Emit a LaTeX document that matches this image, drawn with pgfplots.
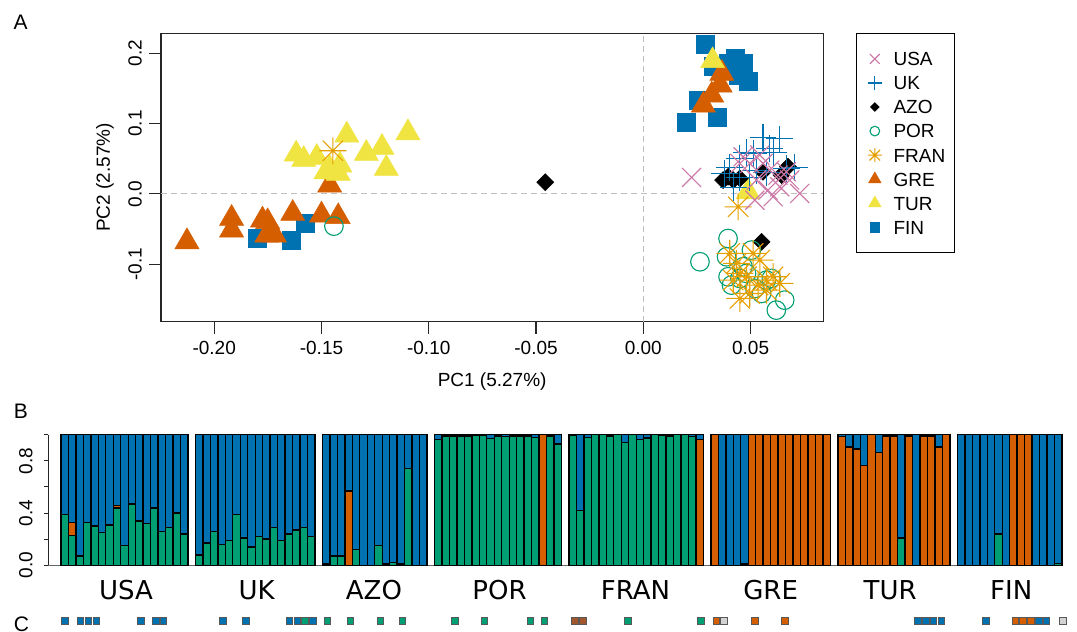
\documentclass[border=0pt]{standalone}
\usepackage{pgfplots}
\usepackage{pgfplotstable}
\pgfplotsset{compat=1.18}
\usepackage{fontspec}
\setmainfont{Liberation Sans}
\newfontfamily\dejavu{DejaVu Sans}
\newcommand{\fs}[1]{\fontsize{#1bp}{#1bp}\selectfont}

\definecolor{cblue}{HTML}{0072B2}
\definecolor{cgreen}{HTML}{009E73}
\definecolor{corange}{HTML}{D55E00}
\definecolor{cfran}{HTML}{E69F00}
\definecolor{cusa}{HTML}{CC79A7}
\definecolor{ctur}{HTML}{F0E442}
\definecolor{cbrown}{HTML}{A0572D}
\definecolor{cgrey}{HTML}{D3D3D3}
\definecolor{dashgrey}{HTML}{BEBEBE}

\pgfdeclareplotmark{rx}{%
 \pgfpathmoveto{\pgfqpoint{-\pgfplotmarksize}{-\pgfplotmarksize}}%
 \pgfpathlineto{\pgfqpoint{\pgfplotmarksize}{\pgfplotmarksize}}%
 \pgfpathmoveto{\pgfqpoint{-\pgfplotmarksize}{\pgfplotmarksize}}%
 \pgfpathlineto{\pgfqpoint{\pgfplotmarksize}{-\pgfplotmarksize}}%
 \pgfusepathqstroke}
\pgfdeclareplotmark{rplus}{%
 \pgfpathmoveto{\pgfqpoint{-\pgfplotmarksize}{0pt}}%
 \pgfpathlineto{\pgfqpoint{\pgfplotmarksize}{0pt}}%
 \pgfpathmoveto{\pgfqpoint{0pt}{-\pgfplotmarksize}}%
 \pgfpathlineto{\pgfqpoint{0pt}{\pgfplotmarksize}}%
 \pgfusepathqstroke}
\pgfdeclareplotmark{star8}{%
 \pgfpathmoveto{\pgfqpoint{-\pgfplotmarksize}{0pt}}%
 \pgfpathlineto{\pgfqpoint{\pgfplotmarksize}{0pt}}%
 \pgfpathmoveto{\pgfqpoint{0pt}{-\pgfplotmarksize}}%
 \pgfpathlineto{\pgfqpoint{0pt}{\pgfplotmarksize}}%
 \pgfpathmoveto{\pgfqpoint{-.75\pgfplotmarksize}{-.75\pgfplotmarksize}}%
 \pgfpathlineto{\pgfqpoint{.75\pgfplotmarksize}{.75\pgfplotmarksize}}%
 \pgfpathmoveto{\pgfqpoint{-.75\pgfplotmarksize}{.75\pgfplotmarksize}}%
 \pgfpathlineto{\pgfqpoint{.75\pgfplotmarksize}{-.75\pgfplotmarksize}}%
 \pgfusepathqstroke}
\pgfdeclareplotmark{rdiamond*}{%
 \pgfpathmoveto{\pgfqpoint{0pt}{\pgfplotmarksize}}%
 \pgfpathlineto{\pgfqpoint{\pgfplotmarksize}{0pt}}%
 \pgfpathlineto{\pgfqpoint{0pt}{-\pgfplotmarksize}}%
 \pgfpathlineto{\pgfqpoint{-\pgfplotmarksize}{0pt}}%
 \pgfpathclose
 \pgfusepathqfillstroke}

\pgfplotsset{
 /pgf/number format/assume math mode=true,
 usaM/.style={only marks, mark=rx, mark size=9.5bp, color=cusa, draw=cusa, line width=1.1bp},
 ukM/.style={only marks, mark=rplus, mark size=13.4bp, color=cblue, draw=cblue, line width=1.1bp},
 azoM/.style={only marks, mark=rdiamond*, mark size=8.5bp, color=black, line width=0.5bp},
 porM/.style={only marks, mark=o, mark size=9.3bp, color=cgreen, draw=cgreen, line width=1.1bp},
 franM/.style={only marks, mark=star8, mark size=13.5bp, color=cfran, draw=cfran, line width=1.1bp},
 greM/.style={only marks, mark=triangle*, mark size=13.9bp, color=corange, line width=0.5bp},
 turM/.style={only marks, mark=triangle*, mark size=13.9bp, color=ctur, line width=0.5bp},
 finM/.style={only marks, mark=square*, mark size=9bp, color=cblue, line width=0.5bp},
}

\pgfplotstableread{
x g o b
0.5 0.39 0 0.61
1.5 0.23 0.10 0.67
2.5 0.07 0 0.93
3.5 0.33 0 0.67
4.5 0.30 0 0.70
5.5 0.25 0 0.75
6.5 0.31 0 0.69
7.5 0.44 0.02 0.54
8.5 0.15 0 0.85
9.5 0.47 0 0.53
10.5 0.34 0 0.66
11.5 0.32 0 0.68
12.5 0.44 0 0.56
13.5 0.26 0 0.74
14.5 0.29 0 0.71
15.5 0.40 0 0.60
16.5 0.24 0 0.76
18.5 0.08 0 0.92
19.5 0.17 0 0.83
20.5 0.26 0 0.74
21.5 0.16 0 0.84
22.5 0.19 0 0.81
23.5 0.39 0 0.61
24.5 0.21 0 0.79
25.5 0.14 0 0.86
26.5 0.22 0 0.78
27.5 0.20 0 0.80
28.5 0.29 0 0.71
29.5 0.19 0 0.81
30.5 0.24 0 0.76
31.5 0.27 0 0.73
32.5 0.29 0 0.71
33.5 0.22 0 0.78
35.5 0.01 0 0.99
36.5 0.07 0 0.93
37.5 0.07 0 0.93
38.5 0 0.57 0.43
39.5 0.12 0 0.88
40.5 0 0 1
41.5 0 0 1
42.5 0.15 0 0.85
43.5 0.01 0 0.99
44.5 0.02 0 0.98
45.5 0.01 0 0.99
46.5 0.74 0 0.26
47.5 0 0 1
48.5 0 0 1
50.5 0.965 0 0.035
51.5 0.99 0 0.01
52.5 0.99 0 0.01
53.5 0.99 0 0.01
54.5 0.99 0 0.01
55.5 0.995 0 0.005
56.5 0.995 0 0.005
57.5 0.97 0 0.03
58.5 0.99 0 0.01
59.5 0.985 0 0.015
60.5 0.99 0 0.01
61.5 0.99 0 0.01
62.5 0.99 0 0.01
63.5 0.98 0 0.02
64.5 0 1 0
65.5 0.99 0 0.01
66.5 0.93 0 0.07
68.5 0.995 0 0.005
69.5 0.42 0 0.58
70.5 0.98 0 0.02
71.5 1 0 0
72.5 1 0 0
73.5 0.99 0 0.01
74.5 1 0 0
75.5 0.94 0 0.06
76.5 1 0 0
77.5 0.965 0 0.035
78.5 0.975 0 0.025
79.5 1 0 0
80.5 0.995 0 0.005
81.5 0.99 0 0.01
82.5 1 0 0
83.5 1 0 0
84.5 0.985 0 0.015
85.5 0 0.965 0.035
87.5 0 1 0
88.5 0 0 1
89.5 0 0 1
90.5 0 0 1
91.5 0 0.01 0.99
92.5 0 1 0
93.5 0 1 0
94.5 0 1 0
95.5 0 1 0
96.5 0 1 0
97.5 0 1 0
98.5 0 1 0
99.5 0 1 0
100.5 0 1 0
101.5 0 1 0
102.5 0 1 0
104.5 0 0.985 0.015
105.5 0 0.905 0.095
106.5 0 0.89 0.11
107.5 0 0.765 0.235
108.5 0 1 0
109.5 0 0.865 0.135
110.5 0 0.99 0.01
111.5 0 0.99 0.01
112.5 0.21 0 0.79
113.5 0 0.99 0.01
114.5 0 0 1
115.5 0 0.99 0.01
116.5 0 0.99 0.01
117.5 0 0.905 0.095
118.5 0 1 0
120.5 0 0 1
121.5 0 0 1
122.5 0 0 1
123.5 0 0 1
124.5 0 0 1
125.5 0.24 0 0.76
126.5 0 0 1
127.5 0 1 0
128.5 0 1 0
129.5 0 1 0
130.5 0 0 1
131.5 0 0 1
132.5 0 0 1
133.5 0.015 0 0.985
}\admix

\begin{document}
\begin{tikzpicture}[x=1bp,y=1bp]

% ---------------- Panel A ----------------
\begin{axis}[
  at={(161bp,-33.3bp)}, anchor=north west,
  scale only axis, width=662.3bp, height=288.4bp,
  xmin=-0.2248, xmax=0.0839, ymin=-0.182, ymax=0.2284,
  axis line style={line width=1.1bp, black!85},
  tick align=outside, major tick length=12bp,
  every tick/.style={line width=1.1bp, black!85},
  xtick={-0.2,-0.15,-0.1,-0.05,0,0.05},
  xticklabels={-0.20,-0.15,-0.10,-0.05,0.00,0.05},
  ytick={-0.1,0,0.1,0.2},
  yticklabels={-0.1,0.0,0.1,0.2},
  xtick pos=bottom, ytick pos=left,
  tick label style={font=\fs{19}, inner sep=0pt},
  xticklabel style={anchor=north},
  yticklabel style={rotate=90, anchor=south},
  xticklabel shift=7.5bp, yticklabel shift=7bp,
  xlabel={PC1 (5.27\%)}, ylabel={PC2 (2.57\%)},
  every axis x label/.style={at={(axis description cs:0.5,-0.2063)}, anchor=center, font=\fs{19}},
  every axis y label/.style={at={(axis description cs:-0.0846,0.5)}, anchor=center, rotate=90, font=\fs{19}},
  legend style={at={(axis description cs:1.0494,1)}, anchor=north west, draw=black, line width=1bp, fill=white,
    inner xsep=9.3bp, inner ysep=18.3bp, row sep=10.36bp, font=\fs{19},
    nodes={inner sep=0pt, text height=13.6bp, text depth=0pt},
    /tikz/every odd column/.append style={column sep=9.7bp}},
  legend cell align=left,
  legend image code/.code={\path[draw=none,fill=none] (0,-6.7bp) rectangle (18bp,6.9bp);
    \pgfinterruptboundingbox
    \path[#1, every mark/.append style={scale=0.52}] plot coordinates {(9bp,0.1bp)};
    \endpgfinterruptboundingbox},
]
\addplot[forget plot, no marks, dashgrey, line width=1.2bp, dash pattern=on 6bp off 4bp] coordinates {(0,-0.182) (0,0.2284)};
\addplot[forget plot, no marks, dashgrey, line width=1.2bp, dash pattern=on 6bp off 4bp] coordinates {(-0.2248,0) (0.0839,0)};

\addplot[finM, forget plot] coordinates {(-0.1799,-0.0635) (-0.1639,-0.0658) (-0.1574,-0.0421) (0.0288,0.2129) (0.0325,0.1817) (0.0427,0.1930) (0.0465,0.1859) (0.0442,0.1688) (0.0488,0.1603) (0.0255,0.1333) (0.0199,0.1020) (0.0344,0.1091) (0.0395,0.1860)};
\addplot[greM, forget plot] coordinates {(0.0366,0.1713) (0.0358,0.1546) (0.0319,0.1404) (0.0280,0.1262) (-0.1462,0.0124) (-0.1919,-0.0350) (-0.1919,-0.0516) (-0.2127,-0.0683) (-0.1775,-0.0374) (-0.1751,-0.0398) (-0.1735,-0.0516) (-0.1719,-0.0588) (-0.1755,-0.0588) (-0.1634,-0.0279) (-0.1500,-0.0303) (-0.1422,-0.0327)};
\addplot[turM, forget plot] coordinates {(-0.1618,0.0565) (-0.1583,0.0488) (-0.1522,0.0517) (-0.1382,0.0835) (-0.1291,0.0574) (-0.1218,0.0660) (-0.1198,0.0361) (-0.1097,0.0868) (-0.1462,0.0361) (-0.1414,0.0408) (-0.1479,0.0313) (-0.1422,0.0290) (0.0323,0.1893) (0.0488,0.0026)};
\addplot[azoM, forget plot] coordinates {(-0.0457,0.0165) (0.0395,0.0242) (0.0419,0.0195) (0.0372,0.0195) (0.0674,0.0385) (0.0644,0.0266) (0.0558,0.0313) (0.0551,-0.0684) (0.0450,0.0218)};
\addplot[porM, forget plot] coordinates {(-0.1442,-0.0460) (0.0264,-0.0967) (0.0395,-0.0636) (0.0388,-0.0896) (0.0504,-0.0801) (0.0465,-0.1038) (0.0395,-0.1181) (0.0411,-0.1299) (0.0481,-0.1133) (0.0520,-0.1347) (0.0551,-0.1418) (0.0574,-0.1228) (0.0597,-0.1204) (0.0659,-0.1513) (0.0620,-0.1655) (0.0450,-0.1204)};
\addplot[franM, forget plot] coordinates {(-0.1447,0.0612) (0.0442,-0.0185) (0.0403,-0.0848) (0.0434,-0.0990) (0.0450,-0.1133) (0.0512,-0.0848) (0.0543,-0.0943) (0.0574,-0.1228) (0.0605,-0.1180) (0.0636,-0.1275) (0.0535,-0.1299) (0.0450,-0.1489) (0.0496,-0.1418) (0.0574,-0.1370) (0.0419,-0.1228) (0.0481,-0.1180)};
\addplot[ukM, forget plot] coordinates {(0.0558,0.0805) (0.0636,0.0781) (0.0481,0.0592) (0.0512,0.0568) (0.0450,0.0497) (0.0589,0.0640) (0.0605,0.0592) (0.0380,0.0284) (0.0403,0.0379) (0.0450,0.0237) (0.0667,0.0355) (0.0706,0.0379) (0.0527,0.0331) (0.0574,0.0308) (0.0496,0.0237) (0.0419,0.0095)};
\addplot[usaM, forget plot] coordinates {(0.0225,0.0233) (0.0465,0.0526) (0.0496,0.0432) (0.0558,0.0432) (0.0589,0.0337) (0.0628,0.0266) (0.0667,0.0313) (0.0527,0.0195) (0.0581,0.0052) (0.0605,-0.0043) (0.0520,-0.0090) (0.0729,0.0005) (0.0636,0.0100) (0.0682,0.0195) (0.0450,0.0432) (0.0543,0.0551)};

\addlegendimage{usaM}\addlegendentry{USA}
\addlegendimage{ukM}\addlegendentry{UK}
\addlegendimage{azoM}\addlegendentry{AZO}
\addlegendimage{porM}\addlegendentry{POR}
\addlegendimage{franM}\addlegendentry{FRAN}
\addlegendimage{greM}\addlegendentry{GRE}
\addlegendimage{turM}\addlegendentry{TUR}
\addlegendimage{finM}\addlegendentry{FIN}
\end{axis}

% ---------------- Panel B ----------------
\begin{axis}[
  at={(48.2bp,-434.7bp)}, anchor=north west,
  scale only axis, width=1013.8bp, height=130.6bp,
  xmin=-1.71, xmax=134, ymin=0, ymax=1,
  ybar stacked, bar width=1,
  axis x line*=bottom, axis y line*=left,
  x axis line style={draw=black!60, line width=1.2bp, -},
  y axis line style={draw=black!85, line width=1bp, -},
  xtick={8.7,26.2,41.9,58.7,76.9,95,111,127.2},
  xticklabels={USA,UK,AZO,POR,FRAN,GRE,TUR,FIN},
  xticklabel style={font=\dejavu\fs{26}, anchor=north, inner sep=0pt},
  x tick style={draw=none},
  ytick={0,0.2,0.4,0.6,0.8,1}, yticklabels={0.0,,0.4,,0.8,},
  yticklabel style={font=\fs{19}, rotate=90, anchor=south, inner sep=0pt},
  y tick style={line width=1bp, black!85},
  tick align=outside, major tick length=4.5bp,
  xticklabel shift=10.2bp, yticklabel shift=11bp,
  clip=false,
]
\addplot[fill=cgreen, draw=black, line width=1.4bp] table[x=x, y=g] {\admix};
\addplot[fill=corange, draw=black, line width=1.4bp] table[x=x, y=o] {\admix};
\addplot[fill=cblue, draw=black, line width=1.4bp] table[x=x, y=b] {\admix};
\end{axis}

% ---------------- Panel C ----------------
\begin{axis}[
  at={(0bp,-621bp)}, anchor=west,
  scale only axis, width=1077bp, height=10bp,
  xmin=0, xmax=1077, ymin=-1, ymax=1,
  hide axis, clip=false,
]
\addplot[only marks, mark=square*, mark size=3.3bp, mark options={fill=cblue, draw=black!65, line width=0.6bp}] coordinates {(64.7,0) (80.3,0) (88.3,0) (96.3,0) (141,0) (155.7,0) (163.3,0) (222.7,0) (246,0) (289.3,0) (297.3,0) (312.7,0) (917.7,0) (925.7,0) (933.3,0) (941.3,0) (986,0) (1038.7,0) (1046.3,0)};
\addplot[only marks, mark=square*, mark size=3.3bp, mark options={fill=cgreen, draw=black!65, line width=0.6bp}] coordinates {(305,0) (327.3,0) (350.3,0) (380.3,0) (402.3,0) (455,0) (484.3,0) (530.3,0) (544.3,0) (627.7,0) (700.7,0)};
\addplot[only marks, mark=square*, mark size=3.3bp, mark options={fill=cbrown, draw=black!65, line width=0.6bp}] coordinates {(575,0) (582.7,0)};
\addplot[only marks, mark=square*, mark size=3.3bp, mark options={fill=corange, draw=black!65, line width=0.6bp}] coordinates {(716.3,0) (754.7,0) (785,0) (1015.3,0) (1023,0) (1031,0)};
\addplot[only marks, mark=square*, mark size=3.3bp, mark options={fill=cgrey, draw=black!65, line width=0.6bp}] coordinates {(724,0) (1063,0)};
\end{axis}

\node[anchor=base west, font=\fs{21}, inner sep=0pt] at (13.5,-29.5) {A};
\node[anchor=base west, font=\fs{21}, inner sep=0pt] at (13.8,-418.3) {B};
\node[anchor=base west, font=\fs{21}, inner sep=0pt] at (13.8,-631.7) {C};

\pgfresetboundingbox
\path[use as bounding box] (0,0) rectangle (1077,-632);
\end{tikzpicture}
\end{document}
